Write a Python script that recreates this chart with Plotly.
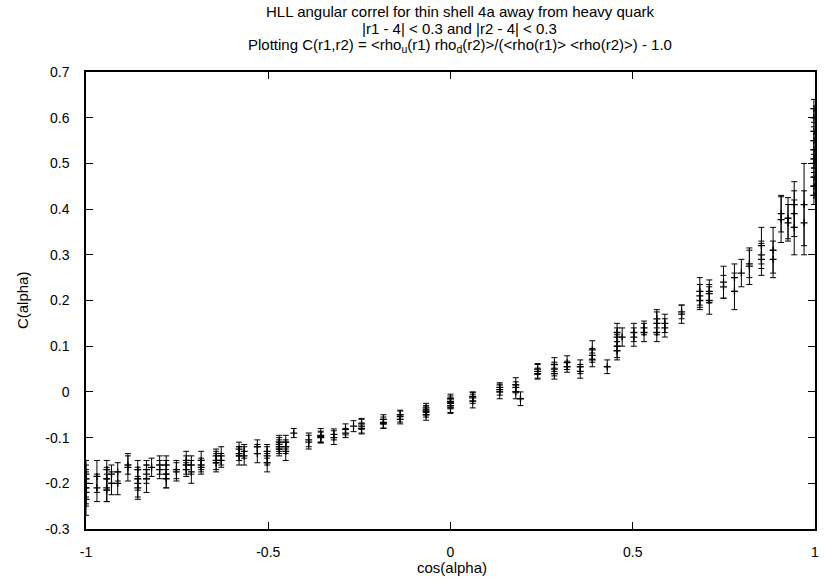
import plotly.graph_objects as go

# cos(alpha) values, C(alpha) values and their errors
cos_alpha = [
    -1.0, -1.0, -1.0, -1.0, -1.0, -1.0,
    -0.97, -0.97,
    -0.943, -0.943, -0.943, -0.943,
    -0.93, -0.93,
    -0.913, -0.913,
    -0.885, -0.885,
    -0.858, -0.858, -0.858, -0.858,
    -0.834, -0.834, -0.834,
    -0.82,
    -0.798, -0.798,
    -0.78, -0.78, -0.78,
    -0.752, -0.752,
    -0.725, -0.725, -0.725,
    -0.711, -0.711,
    -0.684, -0.684, -0.684,
    -0.643, -0.643, -0.643,
    -0.629, -0.629,
    -0.58, -0.58, -0.58,
    -0.566, -0.566,
    -0.53, -0.53,
    -0.503, -0.503, -0.503,
    -0.47, -0.47, -0.47, -0.47,
    -0.452, -0.452, -0.452,
    -0.43,
    -0.389, -0.389,
    -0.356, -0.356, -0.356,
    -0.32, -0.32,
    -0.288, -0.288,
    -0.266,
    -0.244, -0.244, -0.244,
    -0.184, -0.184, -0.184,
    -0.138, -0.138, -0.138,
    -0.067, -0.067, -0.067, -0.067,
    0.0, 0.0, 0.0, 0.0, 0.0,
    0.061, 0.061, 0.061,
    0.135, 0.135, 0.135,
    0.179, 0.179, 0.179,
    0.192,
    0.239, 0.239, 0.239,
    0.285, 0.285, 0.285,
    0.32, 0.32,
    0.356, 0.356,
    0.389, 0.389, 0.389,
    0.43,
    0.457, 0.457, 0.457, 0.457,
    0.471,
    0.503, 0.503,
    0.531, 0.531,
    0.566, 0.566, 0.566,
    0.588, 0.588,
    0.634, 0.634,
    0.684, 0.684, 0.684,
    0.71, 0.71, 0.71,
    0.749, 0.749,
    0.779, 0.779,
    0.798,
    0.82, 0.82,
    0.853, 0.853, 0.853,
    0.885, 0.885,
    0.907, 0.907,
    0.926, 0.926,
    0.943, 0.943, 0.943,
    0.97, 0.97,
    0.997, 0.997, 0.997, 0.997, 0.997, 0.997, 0.997, 0.997, 0.997, 0.997,
]

c_alpha = [
    -0.18, -0.20, -0.21, -0.22, -0.235, -0.19,
    -0.185, -0.21,
    -0.17, -0.19, -0.21, -0.215,
    -0.18, -0.20,
    -0.175, -0.20,
    -0.165, -0.16,
    -0.19, -0.17, -0.20, -0.21,
    -0.18, -0.19, -0.17,
    -0.165,
    -0.16, -0.17,
    -0.16, -0.18, -0.19,
    -0.17, -0.175,
    -0.16, -0.17, -0.15,
    -0.175, -0.16,
    -0.16, -0.15, -0.165,
    -0.15, -0.14, -0.155,
    -0.14, -0.15,
    -0.125, -0.135, -0.14,
    -0.13, -0.14,
    -0.12, -0.135,
    -0.13, -0.14, -0.155,
    -0.115, -0.12, -0.125, -0.11,
    -0.12, -0.11, -0.13,
    -0.09,
    -0.105, -0.11,
    -0.10, -0.095, -0.098,
    -0.093, -0.10,
    -0.082, -0.09,
    -0.075,
    -0.075, -0.08, -0.07,
    -0.067, -0.07, -0.06,
    -0.054, -0.06, -0.05,
    -0.043, -0.04, -0.035, -0.05,
    -0.021, -0.03, -0.015, -0.025, -0.035,
    -0.013, -0.02, -0.01,
    0.005, 0.0, 0.01,
    0.016, 0.01, 0.0,
    -0.015,
    0.05, 0.045, 0.04,
    0.05, 0.04, 0.06,
    0.064, 0.055,
    0.055, 0.045,
    0.092, 0.08, 0.07,
    0.055,
    0.12, 0.10, 0.09, 0.13,
    0.12,
    0.13, 0.12,
    0.13, 0.14,
    0.15, 0.16, 0.13,
    0.15, 0.14,
    0.17, 0.175,
    0.21, 0.22, 0.20,
    0.22, 0.20, 0.215,
    0.24, 0.23,
    0.22, 0.25,
    0.26,
    0.275, 0.28,
    0.32, 0.29, 0.30,
    0.31, 0.29,
    0.377, 0.39,
    0.38, 0.37,
    0.39, 0.41, 0.36,
    0.41, 0.37,
    0.62, 0.60, 0.57, 0.55, 0.53, 0.51, 0.50, 0.47, 0.45, 0.43,
]

c_err = [
    0.03, 0.03, 0.035, 0.03, 0.035, 0.03,
    0.035, 0.03,
    0.02, 0.025, 0.03, 0.025,
    0.02, 0.025,
    0.02, 0.025,
    0.03, 0.02,
    0.025, 0.02, 0.03, 0.025,
    0.02, 0.03, 0.02,
    0.02,
    0.02, 0.02,
    0.02, 0.03, 0.02,
    0.02, 0.02,
    0.02, 0.015, 0.02,
    0.025, 0.02,
    0.015, 0.02, 0.015,
    0.02, 0.015, 0.02,
    0.02, 0.015,
    0.015, 0.015, 0.02,
    0.015, 0.02,
    0.015, 0.02,
    0.015, 0.02, 0.02,
    0.015, 0.015, 0.015, 0.015,
    0.015, 0.015, 0.02,
    0.01,
    0.015, 0.015,
    0.012, 0.015, 0.012,
    0.012, 0.015,
    0.012, 0.01,
    0.012,
    0.015, 0.012, 0.012,
    0.012, 0.01, 0.01,
    0.012, 0.01, 0.01,
    0.012, 0.01, 0.01, 0.012,
    0.012, 0.015, 0.01, 0.012, 0.012,
    0.012, 0.015, 0.01,
    0.012, 0.015, 0.01,
    0.015, 0.012, 0.015,
    0.015,
    0.012, 0.015, 0.012,
    0.015, 0.012, 0.015,
    0.015, 0.012,
    0.015, 0.015,
    0.02, 0.015, 0.015,
    0.015,
    0.02, 0.025, 0.02, 0.02,
    0.02,
    0.02, 0.02,
    0.02, 0.015,
    0.025, 0.02, 0.02,
    0.02, 0.02,
    0.02, 0.015,
    0.025, 0.03, 0.02,
    0.025, 0.03, 0.02,
    0.035, 0.025,
    0.04, 0.03,
    0.03,
    0.04, 0.03,
    0.04, 0.035, 0.03,
    0.05, 0.04,
    0.05, 0.04,
    0.045, 0.04,
    0.05, 0.05, 0.06,
    0.09, 0.07,
    0.02, 0.02, 0.02, 0.02, 0.02, 0.02, 0.02, 0.02, 0.02, 0.02,
]

x_ticks = [-1, -0.5, 0, 0.5, 1]
x_tick_text = ["-1", "-0.5", "0", "0.5", "1"]
y_ticks = [-0.3, -0.2, -0.1, 0, 0.1, 0.2, 0.3, 0.4, 0.5, 0.6, 0.7]
y_tick_text = ["-0.3", "-0.2", "-0.1", "0", "0.1", "0.2", "0.3", "0.4", "0.5", "0.6", "0.7"]

title_lines = [
    "HLL angular correl for thin shell 4a away from heavy quark",
    "|r1 - 4| < 0.3 and |r2 - 4| < 0.3",
    "Plotting C(r1,r2) = &lt;rho<sub>u</sub>(r1) rho<sub>d</sub>(r2)&gt;/(&lt;rho(r1)&gt; &lt;rho(r2)&gt;) - 1.0",
]

FONT = "Liberation Sans, Arial, Helvetica, sans-serif"

fig = go.Figure()
fig.add_trace(go.Scatter(
    x=cos_alpha, y=c_alpha, mode="markers",
    marker=dict(symbol="cross-thin", size=5, color="black",
                line=dict(color="black", width=1.3)),
    error_y=dict(type="data", array=c_err, visible=True,
                 color="black", thickness=1, width=3),
    showlegend=False,
))

axis_common = dict(
    showline=True, linecolor="black", linewidth=1.5, mirror="ticks",
    ticks="inside", ticklen=7, tickcolor="black", tickwidth=1,
    showgrid=False, zeroline=False,
    tickfont=dict(family=FONT, size=14, color="black"),
)

fig.update_xaxes(range=[-1, 1], tickvals=x_ticks, ticktext=x_tick_text,
                 ticklabelstandoff=9, **axis_common)
fig.update_yaxes(range=[-0.3, 0.7], tickvals=y_ticks, ticktext=y_tick_text,
                 ticklabelstandoff=12, **axis_common)

annotations = []
for txt, yp in zip(title_lines, [1.133, 1.096, 1.058]):
    annotations.append(dict(text=txt, x=0.513, y=yp, xref="paper", yref="paper",
                            xanchor="center", yanchor="middle", showarrow=False,
                            font=dict(family=FONT, size=15, color="black")))
annotations.append(dict(text="cos(alpha)", x=0.502, y=-0.085, xref="paper", yref="paper",
                        xanchor="center", yanchor="middle", showarrow=False,
                        font=dict(family=FONT, size=15, color="black")))
annotations.append(dict(text="C(alpha)", x=-0.087, y=0.5, xref="paper", yref="paper",
                        xanchor="center", yanchor="middle", showarrow=False, textangle=-90,
                        font=dict(family=FONT, size=15, color="black")))

fig.update_layout(
    width=825, height=584,
    margin=dict(l=86, r=6, t=72, b=55),
    paper_bgcolor="white", plot_bgcolor="white",
    annotations=annotations,
)

fig.write_html("out.html")
